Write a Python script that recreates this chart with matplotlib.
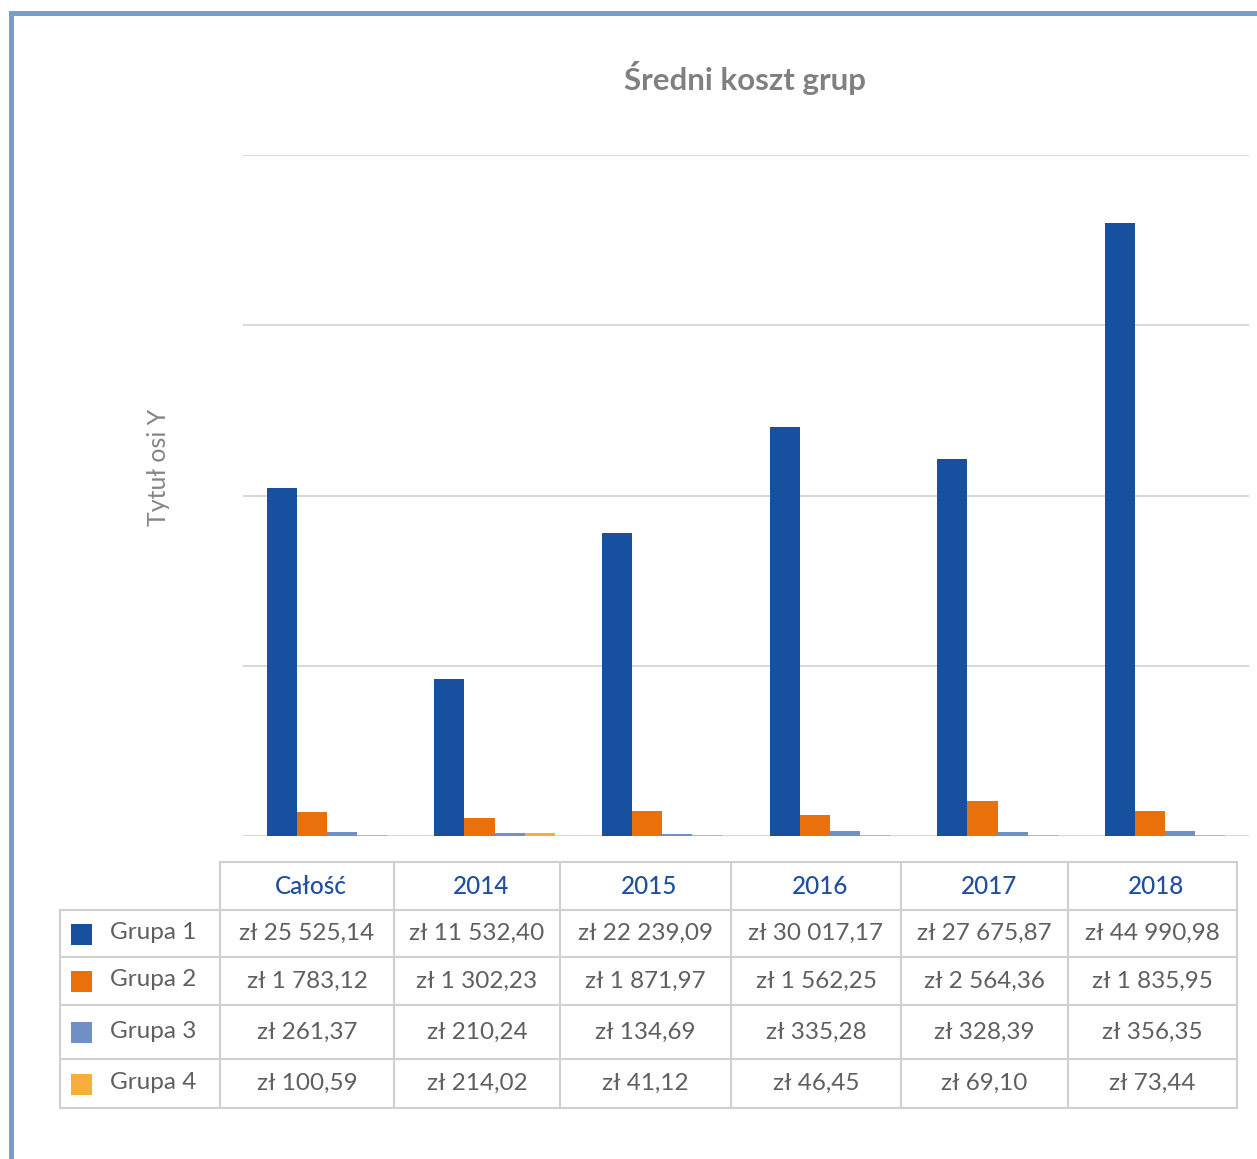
import numpy as np
import matplotlib.pyplot as plt
from matplotlib.patches import Rectangle

plt.rcParams['font.family'] = ['Lato', 'DejaVu Sans']

kategorie = ["Całość", "2014", "2015", "2016", "2017", "2018"]
grupy = ["Grupa 1", "Grupa 2", "Grupa 3", "Grupa 4"]
grupa1 = [25525.14, 11532.40, 22239.09, 30017.17, 27675.87, 44990.98]
grupa2 = [1783.12, 1302.23, 1871.97, 1562.25, 2564.36, 1835.95]
grupa3 = [261.37, 210.24, 134.69, 335.28, 328.39, 356.35]
grupa4 = [100.59, 214.02, 41.12, 46.45, 69.10, 73.44]
serie = [grupa1, grupa2, grupa3, grupa4]
kolory = ["#17509e", "#e9700b", "#7090c8", "#f8ae3a"]


def zl(v):
    s = f"{v:,.2f}".replace(",", " ").replace(".", ",")
    return "zł " + s


fig = plt.figure(figsize=(12.57, 11.59), dpi=100)

# wykres słupkowy
ax = fig.add_axes([243/1257, 1-836/1159, (1249-243)/1257, (836-155)/1159])
x = np.arange(len(kategorie))
w = 0.179
for i, vals in enumerate(serie):
    ax.bar(x + (i - 1.5) * w, vals, width=w, color=kolory[i], zorder=3)
ax.set_xlim(-0.5, len(kategorie) - 0.5)
ax.set_ylim(0, 50000)
ax.set_yticks(np.arange(0, 50001, 12500))
ax.yaxis.grid(True, color="#d9d9d9", linewidth=1.5, zorder=0)
ax.tick_params(left=False, bottom=False, labelleft=False, labelbottom=False)
for s in ax.spines.values():
    s.set_visible(False)

# nakładka w pikselach na tabelę, ramkę i tytuły
ov = fig.add_axes([0, 0, 1, 1], zorder=-1)
ov.set_xlim(0, 1257)
ov.set_ylim(1159, 0)
ov.axis("off")

ov.add_patch(Rectangle((9, 11), 1260, 5, color="#739fce", lw=0))
ov.add_patch(Rectangle((9, 11), 5, 1160, color="#739fce", lw=0))

ov.text(745, 78, "Średni koszt grup", ha="center", va="center",
        fontsize=22.5, fontweight="bold", color="#808080")
ov.text(158, 467, "Tytuł osi Y", ha="center", va="center", rotation=90,
        fontsize=18, color="#858585")

# tabela danych
col_x = [60, 220, 394, 560, 731, 901, 1068, 1237]
row_y = [862, 910, 957, 1005, 1059, 1108]
lc = "#d0d0d0"
lw = 1.5
# poziome linie
ov.plot([col_x[1], col_x[-1]], [row_y[0], row_y[0]], color=lc, lw=lw)
for y in row_y[1:]:
    ov.plot([col_x[0], col_x[-1]], [y, y], color=lc, lw=lw)
# pionowe linie
ov.plot([col_x[0], col_x[0]], [row_y[1], row_y[-1]], color=lc, lw=lw)
for cx in col_x[1:]:
    ov.plot([cx, cx], [row_y[0], row_y[-1]], color=lc, lw=lw)

for j, kat in enumerate(kategorie):
    xc = (col_x[j+1] + col_x[j+2]) / 2 + 4
    ov.text(xc, (row_y[0] + row_y[1]) / 2, kat, ha="center", va="center",
            fontsize=17.5, color="#1f4f9e", fontweight="medium")

for i, g in enumerate(grupy):
    yc = (row_y[i+1] + row_y[i+2]) / 2
    ov.add_patch(Rectangle((71, yc - 10), 21, 21, color=kolory[i], lw=0))
    ov.text(110, yc - 1, g, ha="left", va="center", fontsize=17.5, color="#5f5f5f")
    for j, v in enumerate(serie[i]):
        xc = (col_x[j+1] + col_x[j+2]) / 2
        ov.text(xc, yc, zl(v), ha="center", va="center", fontsize=17.5,
                color="#5f5f5f")

fig.savefig("out.png", dpi=100, facecolor="white")
